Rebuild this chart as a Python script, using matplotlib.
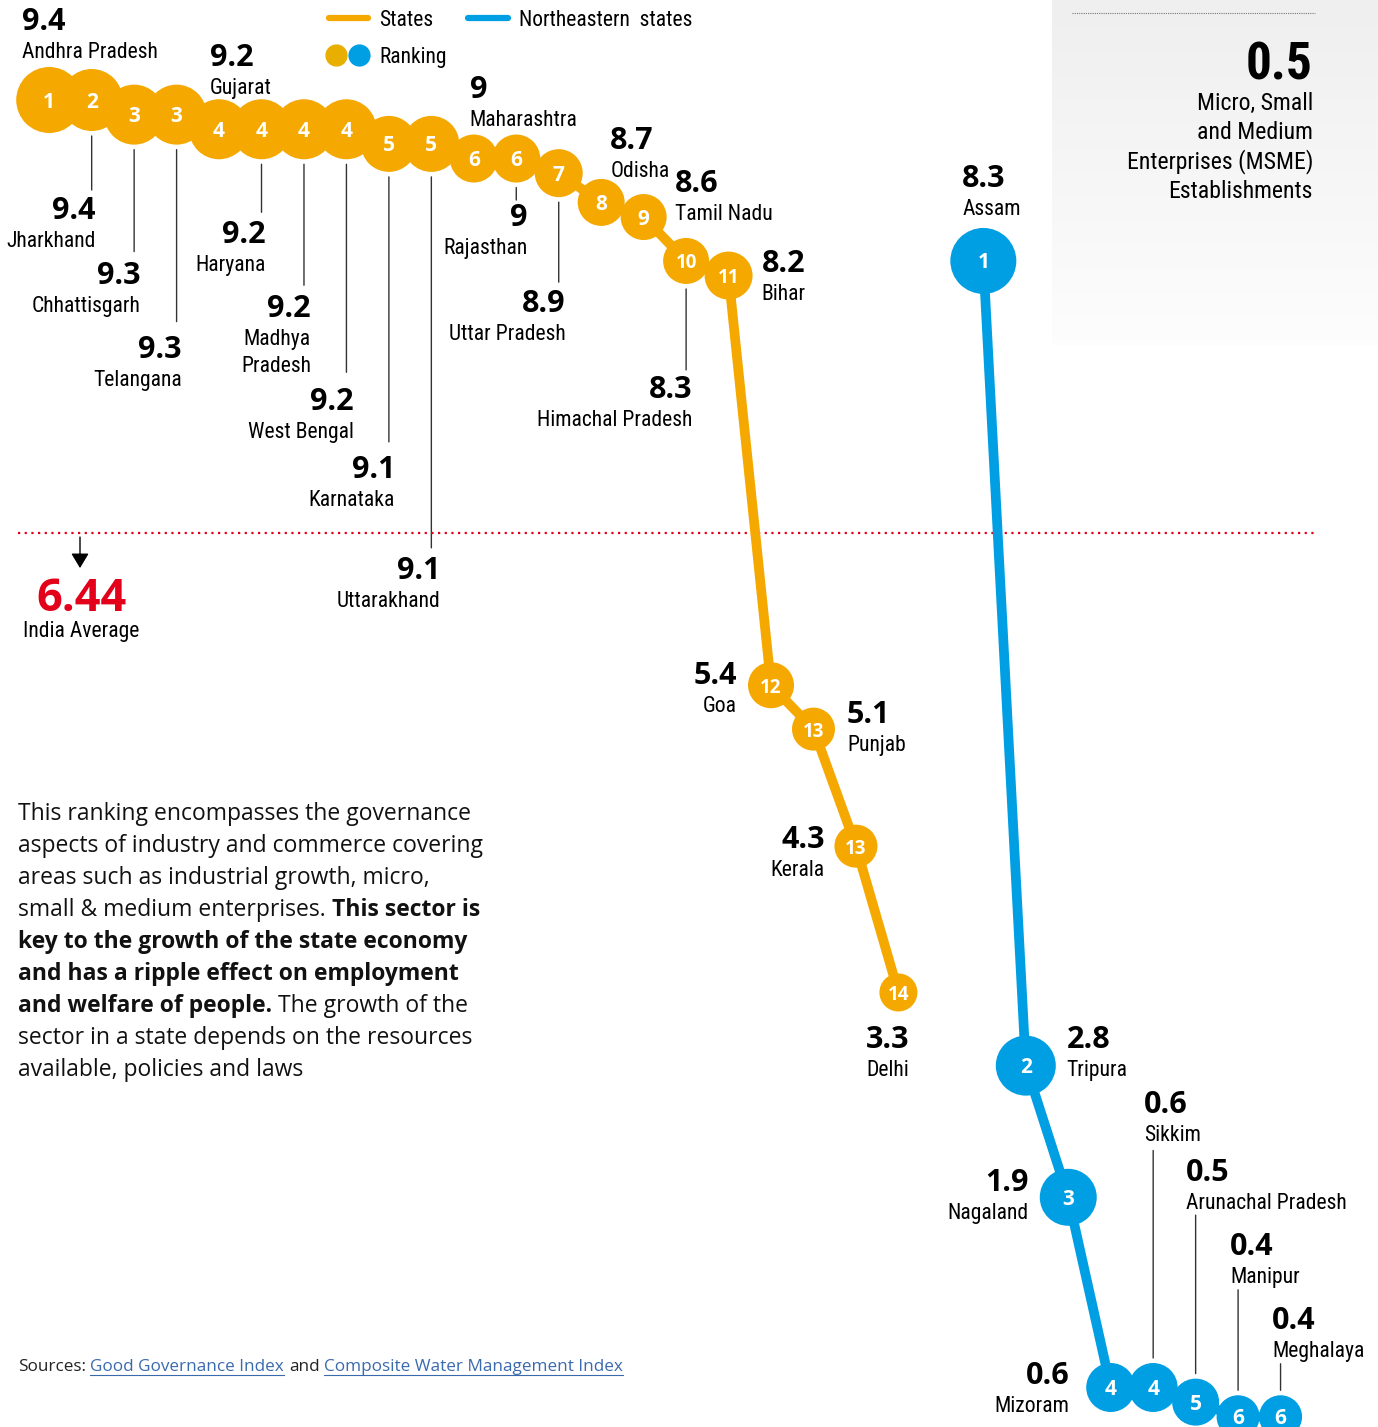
import numpy as np
import matplotlib
matplotlib.use('Agg')
import matplotlib.pyplot as plt
import matplotlib.transforms as mtransforms
from matplotlib import font_manager as fm
from matplotlib.lines import Line2D
from matplotlib.colors import LinearSegmentedColormap

# ---- data ----
states = ['Andhra Pradesh', 'Jharkhand', 'Chhattisgarh', 'Telangana', 'Gujarat',
          'Haryana', 'Madhya\nPradesh', 'West Bengal', 'Karnataka', 'Uttarakhand',
          'Maharashtra', 'Rajasthan', 'Uttar Pradesh', 'Odisha', 'Tamil Nadu',
          'Himachal Pradesh', 'Bihar', 'Goa', 'Punjab', 'Kerala', 'Delhi']
state_scores = [9.4, 9.4, 9.3, 9.3, 9.2, 9.2, 9.2, 9.2, 9.1, 9.1, 9.0, 9.0,
                8.9, 8.7, 8.6, 8.3, 8.2, 5.4, 5.1, 4.3, 3.3]
state_ranks = [1, 2, 3, 3, 4, 4, 4, 4, 5, 5, 6, 6, 7, 8, 9, 10, 11, 12, 13, 13, 14]

ne_states = ['Assam', 'Tripura', 'Nagaland', 'Mizoram', 'Sikkim',
             'Arunachal Pradesh', 'Manipur', 'Meghalaya']
ne_scores = [8.3, 2.8, 1.9, 0.6, 0.6, 0.5, 0.4, 0.4]
ne_ranks = [1, 2, 3, 4, 4, 5, 6, 6]

india_average = 6.44
msme_value = 0.5

# ---- styling ----
ORANGE = '#F5A800'
BLUE = '#009FE3'
RED = '#E2001A'
LINK = '#3A6AAE'
NUM_FONT = ['Open Sans', 'DejaVu Sans']
TEXT_FONT = ['Open Sans', 'DejaVu Sans']


def pick_narrow():
    # look for a condensed face; fall back to Liberation Sans at a smaller size
    have = {(f.name, str(f.stretch)) for f in fm.fontManager.ttflist}
    fams = {n for n, _ in have}
    for name in ['Liberation Sans Narrow', 'Roboto Condensed', 'Open Sans Condensed',
                 'Noto Sans Condensed', 'DejaVu Sans Condensed']:
        if name in fams:
            return name, 'normal', 1.0
    for name in ['Open Sans', 'Noto Sans', 'Roboto', 'DejaVu Sans']:
        for st in ['condensed', 'semi-condensed', '75', '87', '62']:
            if (name, st) in have:
                return name, st, 1.0
    return 'Liberation Sans', 'normal', 0.84


NARROW, STRETCH, NSCALE = pick_narrow()
NAME_KW = dict(family=[NARROW, 'DejaVu Sans'], fontstretch=STRETCH)
NAME_FS = 15.6 * NSCALE
VAL_FS = 22

# circle radius (px) per rank
state_rad = {1: 33, 2: 31, 3: 30, 4: 30, 5: 28, 6: 24, 7: 24, 8: 23.5, 9: 23,
             10: 23, 11: 24, 12: 23, 13: 21.5, 14: 19}
ne_rad = {1: 33, 2: 30, 3: 28.5, 4: 24.5, 5: 23.5, 6: 21.5}

# label placement: (dx, dy of value centre from point in px, align, leader end px)
state_lbl = [(-27, -81, 'left', None), (4, 108, 'right', 90), (6, 158, 'right', 137),
             (5, 232, 'right', 207), (-9, -74, 'left', None), (4.5, 103, 'right', 83),
             (7, 177, 'right', 156), (7, 270, 'right', 243), (6, 323, 'right', 298),
             (9, 424, 'right', 404), (-4, -71.5, 'left', None), (11, 56.5, 'right', 41.5),
             (7, 128, 'right', 109), (9, -64, 'left', None), (31, -36, 'left', None),
             (6, 126, 'right', 109), (33, -15, 'left', None), (-34, -12, 'right', None),
             (33.5, -17, 'left', None), (-31, -9, 'right', None), (10.6, 45, 'right', None)]
ne_lbl = [(-21, -85, 'left', None), (41, -28.6, 'left', None), (-40, -17, 'right', None),
          (-41, -14, 'right', None), (-9, -285, 'left', -237), (-10, -232, 'left', -187),
          (-8, -173, 'left', -127), (-8.5, -99, 'left', -53)]

W, H = 1378, 1427
fig = plt.figure(figsize=(W / 100, H / 100), dpi=100)
fig.patch.set_facecolor('white')


def fx(px):
    return px / W


def fy(py):
    return 1 - py / H


# grey panel on the right
bg = fig.add_axes([fx(1052), fy(345), 1 - fx(1052), 345 / H], zorder=0)
bg.imshow(np.linspace(0, 1, 100).reshape(-1, 1), aspect='auto', extent=(0, 1, 0, 1),
          cmap=LinearSegmentedColormap.from_list('g', ['#EFEFEF', '#FDFDFD']))
bg.axis('off')

ax = fig.add_axes([0, 0, 1, 1], zorder=1)
ax.set_xlim(-1.159, 31.295)
ax.set_ylim(0.33, 10.0835)
ax.axis('off')

sx = np.arange(len(states))
nx = np.arange(len(ne_states)) + len(states) + 1

ax.plot(sx, state_scores, color=ORANGE, lw=7, zorder=2, solid_joinstyle='round')
ax.plot(nx, ne_scores, color=BLUE, lw=7, zorder=2, solid_joinstyle='round')


def draw_series(xs, scores, ranks, names, rad, specs, color):
    sizes = [(1.44 * rad[r]) ** 2 for r in ranks]
    ax.scatter(xs, scores, s=sizes, color=color, linewidths=0, zorder=3)
    for x, v, rk, name, spec in zip(xs, scores, ranks, names, specs):
        ax.annotate(str(rk), (x, v), xytext=(0, -7.5), textcoords='offset pixels',
                    ha='center', va='baseline', color='white', fontweight='bold',
                    fontsize=15 if rk < 10 else 13.5, family=NUM_FONT, zorder=4)
        dx, dy, ha, leader = spec
        ax.annotate(f'{v:g}', (x, v), xytext=(dx, -(dy + 11)), textcoords='offset pixels',
                    ha=ha, va='baseline', fontsize=VAL_FS, fontweight='bold',
                    family=NUM_FONT)
        for k, part in enumerate(name.split('\n')):
            ax.annotate(part, (x, v), xytext=(dx, -(dy + 39 + 27 * k)),
                        textcoords='offset pixels', ha=ha, va='baseline',
                        fontsize=NAME_FS, **NAME_KW)
        if leader is not None:
            start = rad[rk] + 5
            ax.annotate('', (x, v), xytext=(0, -leader), textcoords='offset pixels',
                        arrowprops=dict(arrowstyle='-', lw=1, color='#333333',
                                        shrinkA=0, shrinkB=start * 0.72), zorder=1)


draw_series(sx, state_scores, state_ranks, states, state_rad, state_lbl, ORANGE)
draw_series(nx, ne_scores, ne_ranks, ne_states, ne_rad, ne_lbl, BLUE)

# India average line
ax.axhline(india_average, xmin=fx(18), xmax=fx(1315), color=RED, lw=1.6,
           linestyle=(0, (1, 2)), zorder=1)
blend = mtransforms.blended_transform_factory(ax.transAxes, ax.transData)
head = mtransforms.offset_copy(blend, fig=fig, x=0, y=-35, units='dots')
ax.annotate('', xy=(fx(80), india_average), xycoords=head, xytext=(0, 31),
            textcoords='offset pixels',
            arrowprops=dict(arrowstyle='-|>,head_width=0.3,head_length=0.5', lw=1,
                            color='black', shrinkA=0, shrinkB=0, mutation_scale=18))
ax.annotate(f'{india_average:g}', xy=(fx(81), india_average), xycoords=blend,
            xytext=(0, -78), textcoords='offset pixels', ha='center', va='baseline',
            color=RED, fontsize=32.5, fontweight='bold', family=NUM_FONT)
ax.annotate('India Average', xy=(fx(81), india_average), xycoords=blend,
            xytext=(0, -104), textcoords='offset pixels', ha='center', va='baseline',
            fontsize=NAME_FS, **NAME_KW)

# legend
fig.add_artist(Line2D([fx(329), fx(368)], [fy(18)] * 2, color=ORANGE, lw=4.5,
                      solid_capstyle='round', transform=fig.transFigure))
fig.add_artist(Line2D([fx(468), fx(508)], [fy(18)] * 2, color=BLUE, lw=4.5,
                      solid_capstyle='round', transform=fig.transFigure))
fig.add_artist(Line2D([fx(336)], [fy(55)], marker='o', ms=16, mew=0, color='#E8AE00',
                      transform=fig.transFigure))
fig.add_artist(Line2D([fx(359)], [fy(55)], marker='o', ms=16, mew=0, color=BLUE,
                      transform=fig.transFigure))
LFS = 15.5 * NSCALE
fig.text(fx(379), fy(26), 'States', fontsize=LFS, va='baseline', **NAME_KW)
fig.text(fx(519), fy(26), 'Northeastern  states', fontsize=LFS, va='baseline', **NAME_KW)
fig.text(fx(379), fy(63), 'Ranking', fontsize=LFS, va='baseline', **NAME_KW)

# MSME panel
fig.add_artist(Line2D([fx(1072), fx(1315)], [fy(13)] * 2, color='#777777', lw=0.8,
                      linestyle=(0, (1, 1)), transform=fig.transFigure))
fig.text(fx(1313), fy(80), f'{msme_value:g}', ha='right', va='baseline',
         fontsize=37 * (1 if NSCALE == 1 else 0.92), fontweight='bold', **NAME_KW)
for k, line in enumerate(['Micro, Small', 'and Medium', 'Enterprises (MSME)',
                          'Establishments']):
    fig.text(fx(1313), fy(110 + 29.3 * k), line, ha='right', va='baseline',
             fontsize=17.1 * NSCALE, **NAME_KW)

# paragraph with mixed weights
renderer = fig.canvas.get_renderer()


def text_width(s, **kw):
    t = fig.text(0, 0, s, **kw)
    w = t.get_window_extent(renderer).width
    t.remove()
    return w


para = [
    [('This ranking encompasses the governance', False)],
    [('aspects of industry and commerce covering', False)],
    [('areas such as industrial growth, micro,', False)],
    [('small & medium enterprises.', False), ('This sector is', True)],
    [('key to the growth of the state economy', True)],
    [('and has a ripple effect on employment', True)],
    [('and welfare of people.', True), ('The growth of the', False)],
    [('sector in a state depends on the resources', False)],
    [('available, policies and laws', False)],
]
PFS = 16.5
space = (text_width('x x', fontsize=PFS, family=TEXT_FONT)
         - text_width('xx', fontsize=PFS, family=TEXT_FONT))
for j, segs in enumerate(para):
    x = 18
    for s, bold in segs:
        t = fig.text(fx(x), fy(820 + 32 * j), s, fontsize=PFS, family=TEXT_FONT,
                     fontweight='bold' if bold else 'normal', va='baseline',
                     color='#111111')
        x = t.get_window_extent(renderer).x1 + space

# sources
SFS = 12.3
sspace = (text_width('x x', fontsize=SFS, family=TEXT_FONT)
          - text_width('xx', fontsize=SFS, family=TEXT_FONT))
x = 18
for s, link in [('Sources:', False), ('Good Governance Index', True), ('and', False),
                ('Composite Water Management Index', True)]:
    t = fig.text(fx(x), fy(1371), s, fontsize=SFS, family=TEXT_FONT, va='baseline',
                 color=LINK if link else '#222222')
    bb = t.get_window_extent(renderer)
    if link:
        fig.add_artist(Line2D([bb.x0 / W, bb.x1 / W], [fy(1374.5)] * 2, color=LINK,
                              lw=0.8, transform=fig.transFigure))
    x = bb.x1 + sspace

fig.savefig('out.png', dpi=100, facecolor='white')
